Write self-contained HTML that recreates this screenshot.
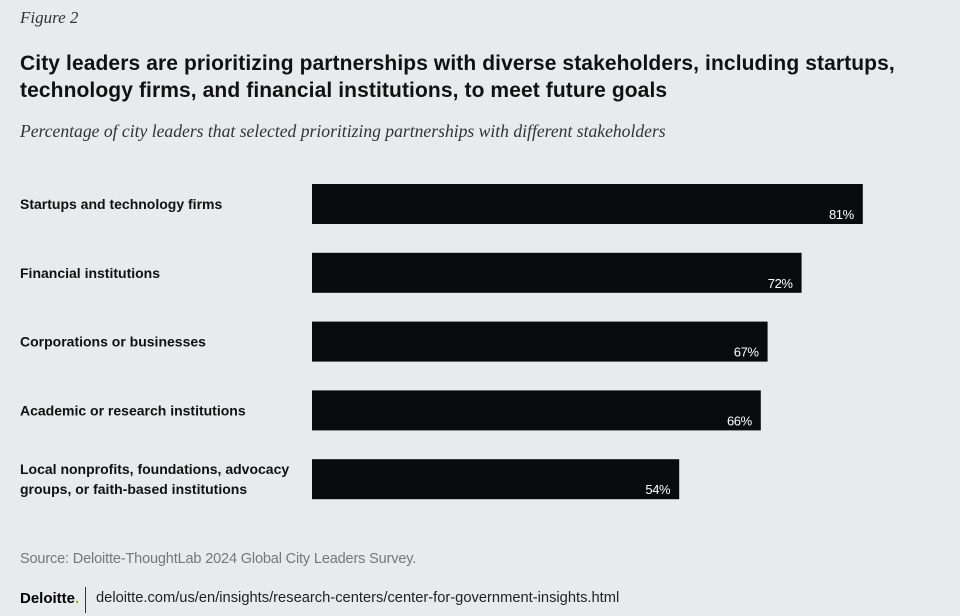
<!DOCTYPE html>
<html><head><meta charset="utf-8"><style>
body{margin:0;width:960px;height:616px;background:#e9eaeb;font-family:"Liberation Sans",sans-serif;position:relative;overflow:hidden;color:#111}
.abs{position:absolute;white-space:nowrap}
</style></head><body>
<div class="abs" style="left:20px;top:8px;font-family:'Liberation Serif',serif;font-style:italic;font-size:17px;color:#333">Figure 2</div>
<div class="abs" style="left:20px;top:50px;font-size:21px;font-weight:bold;line-height:27px;letter-spacing:0.1px;color:#111">City leaders are prioritizing partnerships with diverse stakeholders, including startups,<br>technology firms, and financial institutions, to meet future goals</div>
<div class="abs" style="left:20px;top:121px;font-family:'Liberation Serif',serif;font-style:italic;font-size:17.6px;color:#333">Percentage of city leaders that selected prioritizing partnerships with different stakeholders</div>
<svg class="abs" style="left:0;top:0" width="960" height="616">
<g id="bars"></g></svg>
<div class="abs" style="left:20px;top:551px;font-size:14.5px;letter-spacing:-0.15px;color:#777">Source: Deloitte-ThoughtLab 2024 Global City Leaders Survey.</div>
<div class="abs" style="left:20px;top:590px;font-size:15px;font-weight:bold;color:#000">Deloitte<span style="color:#86bc25">.</span></div>
<div class="abs" style="left:85px;top:587px;width:1px;height:26px;background:#333"></div>
<div class="abs" style="left:96px;top:590px;font-size:14.7px;color:#222">deloitte.com/us/en/insights/research-centers/center-for-government-insights.html</div>
<script>
const categories=["Startups and technology firms","Financial institutions","Corporations or businesses","Academic or research institutions","Local nonprofits, foundations, advocacy|groups, or faith-based institutions"];
const values=[81,72,67,66,54];
const valueLabels=["81%","72%","67%","66%","54%"];
const x0=312,pxPer=6.8,y0=184,step=68.8,bh=40;
const xs=v=>x0+v*pxPer, ys=i=>y0+i*step;
const g=document.getElementById('bars'),NS="http://www.w3.org/2000/svg";
values.forEach((v,i)=>{
 const r=document.createElementNS(NS,'rect');
 
 
 r.setAttribute('x',x0);r.setAttribute('y',ys(i));r.setAttribute('width',xs(v)-x0);r.setAttribute('height',bh);r.setAttribute('fill','#0a0b0d');g.appendChild(r);
 const t=document.createElementNS(NS,'text');
 
 
 t.setAttribute('x',xs(v)-9);t.setAttribute('y',ys(i)+35);t.setAttribute('text-anchor','end');t.setAttribute('fill','#fff');t.setAttribute('font-size','13');t.setAttribute('letter-spacing','-0.4');t.setAttribute('font-family','Liberation Sans, sans-serif');t.textContent=valueLabels[i];g.appendChild(t);
 const lines=categories[i].split('|');
 const c=document.createElementNS(NS,'text');
 
 
 c.setAttribute('font-size','14');c.setAttribute('font-weight','bold');c.setAttribute('fill','#111');c.setAttribute('font-family','Liberation Sans, sans-serif');
 lines.forEach((l,j)=>{const s=document.createElementNS(NS,'tspan');s.setAttribute('x',20);s.setAttribute('y',ys(i)+bh/2+5+(j-(lines.length-1)/2)*20);s.textContent=l;c.appendChild(s);});
 g.appendChild(c);
});
</script>
</body></html>
